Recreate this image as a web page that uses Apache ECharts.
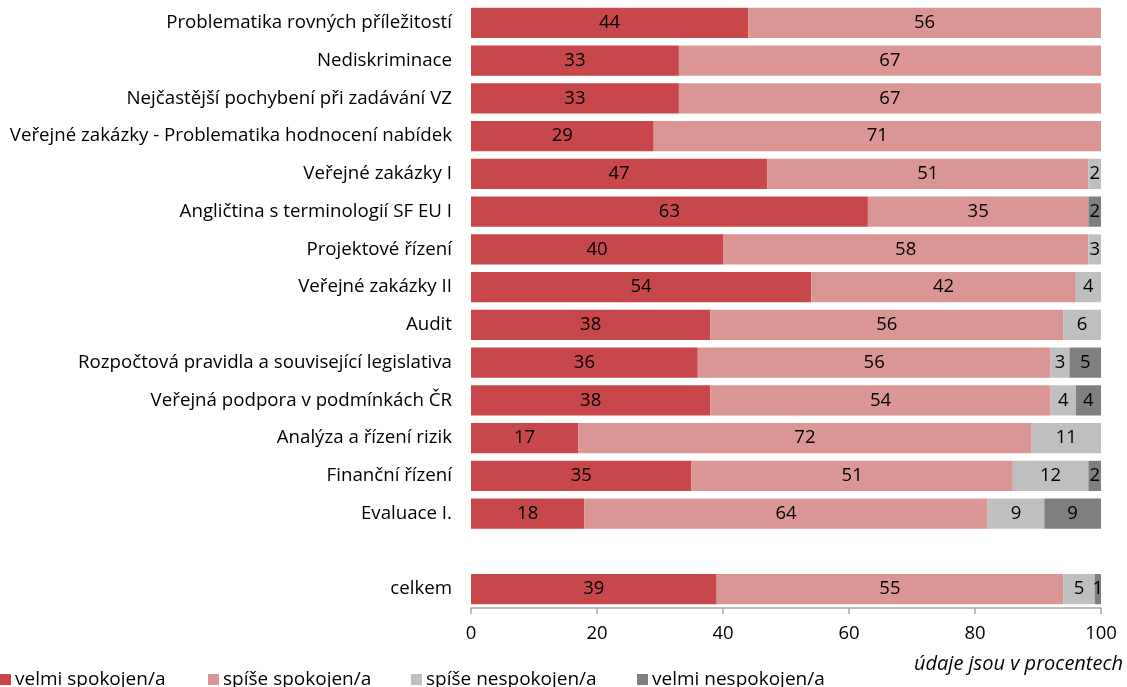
<!DOCTYPE html>
<html>
<head>
<meta charset="utf-8">
<script src="https://cdn.jsdelivr.net/npm/echarts@6/dist/echarts.min.js"></script>
<style>
  html, body { margin: 0; padding: 0; background: #fff; }
  #chart { width: 1127px; height: 687px; }
</style>
</head>
<body>
<div id="chart"></div>
<script>
// Course satisfaction, share of answers in percent
const categories = [
  'Problematika rovných příležitostí',
  'Nediskriminace',
  'Nejčastější pochybení při zadávání VZ',
  'Veřejné zakázky - Problematika hodnocení nabídek',
  'Veřejné zakázky I',
  'Angličtina s terminologií SF EU I',
  'Projektové řízení',
  'Veřejné zakázky II',
  'Audit',
  'Rozpočtová pravidla a související legislativa',
  'Veřejná podpora v podmínkách ČR',
  'Analýza a řízení rizik',
  'Finanční řízení',
  'Evaluace I.',
  '',
  'celkem'
];
const seriesNames = ['velmi spokojen/a', 'spíše spokojen/a', 'spíše nespokojen/a', 'velmi nespokojen/a'];
const velmiSpokojen    = [44, 33, 33, 29, 47, 63, 40, 54, 38, 36, 38, 17, 35, 18, null, 39];
const spiseSpokojen    = [56, 67, 67, 71, 51, 35, 58, 42, 56, 56, 54, 72, 51, 64, null, 55];
const spiseNespokojen  = [null, null, null, null, 2, null, 3, 4, 6, 3, 4, 11, 12, 9, null, 5];
const velmiNespokojen  = [null, null, null, null, null, 2, null, null, null, 5, 4, null, 2, 9, null, 1];
const xTicks = [0, 20, 40, 60, 80, 100];

const FONT = 'Open Sans';
const colors = ['#C8474A', '#DA9694', '#BFBFBF', '#7F7F7F'];
const values = [velmiSpokojen, spiseSpokojen, spiseNespokojen, velmiNespokojen];
const legendLeft = [0, 208, 411, 637];

const chart = echarts.init(document.getElementById('chart'), null, { renderer: 'canvas' });

const series = seriesNames.map((name, i) => ({
  name,
  type: 'bar',
  stack: 'total',
  data: values[i],
  barCategoryGap: '20%',
  itemStyle: { color: colors[i] },
  label: {
    show: true,
    position: 'inside',
    color: '#000',
    fontFamily: FONT,
    fontSize: 18.5,
    formatter: p => (p.value == null ? '' : p.value)
  },
  emphasis: { disabled: true }
}));

chart.setOption({
  animation: false,
  color: colors,
  textStyle: { fontFamily: FONT },
  grid: { left: 471, right: 26, top: 4, bottom: 79, containLabel: false },
  legend: seriesNames.map((name, i) => ({
    data: [name],
    left: legendLeft[i],
    top: 670,
    padding: 0,
    itemWidth: 11,
    itemHeight: 11,
    icon: 'rect',
    textStyle: { fontFamily: FONT, fontSize: 19, color: '#000', padding: [0, 0, 0, -1] },
    selectedMode: false
  })),
  xAxis: {
    type: 'value',
    min: xTicks[0],
    max: xTicks[xTicks.length - 1],
    interval: 20,
    axisLine: { show: true, lineStyle: { color: '#A6A6A6', width: 1.5 } },
    axisTick: { show: true, length: 6, lineStyle: { color: '#A6A6A6', width: 1.5 } },
    splitLine: { show: false },
    axisLabel: { color: '#000', fontFamily: FONT, fontSize: 18.5, margin: 16 }
  },
  yAxis: {
    type: 'category',
    data: categories,
    inverse: true,
    axisLine: { show: false },
    axisTick: { show: false },
    axisLabel: { color: '#000', fontFamily: FONT, fontSize: 18.7, margin: 19 }
  },
  graphic: [{
    type: 'text',
    right: 4,
    top: 654,
    style: {
      text: 'údaje jsou v procentech',
      font: 'italic 20px "' + FONT + '"',
      fill: '#000'
    }
  }],
  series
});
</script>
</body>
</html>
